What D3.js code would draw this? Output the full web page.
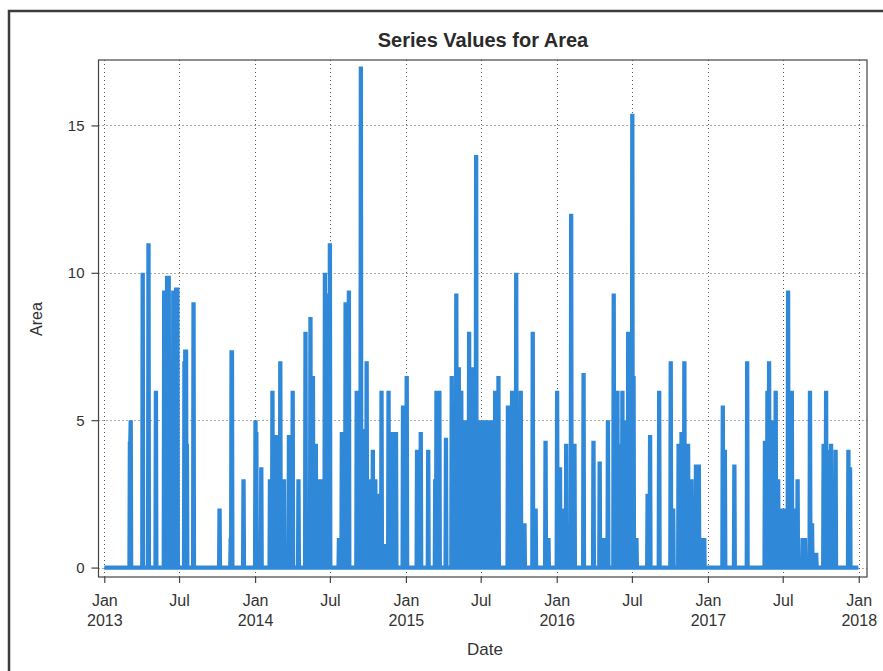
<!DOCTYPE html>
<html>
<head>
<meta charset="utf-8">
<script src="https://cdn.jsdelivr.net/npm/d3@7"></script>
<style>
  html, body { margin: 0; padding: 0; background: #ffffff; }
  svg { display: block; }
  text { font-family: "Liberation Sans", Arial, sans-serif; }
</style>
</head>
<body>
<svg id="chart" width="883" height="671"></svg>
<script>
// Daily readings of Area: only the days with a non-zero value are listed,
// every other day in the series is 0.
const spikeDates = [
  "2013-03-04","2013-03-05","2013-03-06","2013-04-04","2013-04-18","2013-05-06",
  "2013-05-26","2013-05-30","2013-06-02","2013-06-06","2013-06-10","2013-06-13",
  "2013-06-17","2013-06-21","2013-06-24","2013-06-27",
  "2013-07-14","2013-07-16","2013-07-18","2013-07-20","2013-08-05","2013-10-07",
  "2013-11-03","2013-11-05","2013-11-06","2013-12-04",
  "2014-01-02","2014-01-04","2014-01-16","2014-02-06","2014-02-09","2014-02-12",
  "2014-02-21","2014-03-03","2014-03-12","2014-03-24","2014-04-02","2014-04-16",
  "2014-05-03","2014-05-15","2014-05-21","2014-05-28","2014-06-04","2014-06-10",
  "2014-06-19","2014-06-25","2014-07-01","2014-07-23","2014-07-30","2014-08-08",
  "2014-08-16","2014-09-04","2014-09-14","2014-09-20","2014-09-28","2014-10-05",
  "2014-10-13","2014-10-19","2014-10-25","2014-11-03","2014-11-11","2014-11-20",
  "2014-11-28","2014-12-03","2014-12-08","2014-12-25",
  "2015-01-03","2015-01-28","2015-02-06","2015-02-24","2015-03-13","2015-03-16",
  "2015-03-20","2015-03-23","2015-04-08","2015-04-22","2015-05-03","2015-05-09",
  "2015-05-15","2015-05-21","2015-05-27","2015-06-03","2015-06-11","2015-06-20",
  "2015-06-25","2015-06-30","2015-07-05","2015-07-10","2015-07-15","2015-07-20",
  "2015-07-26","2015-07-31","2015-08-05","2015-08-13","2015-09-05","2015-09-15",
  "2015-09-25","2015-10-06","2015-10-15","2015-11-04","2015-11-11","2015-12-05",
  "2015-12-12",
  "2016-01-02","2016-01-09","2016-01-14","2016-01-20","2016-01-24","2016-02-05",
  "2016-02-13","2016-03-06","2016-03-30","2016-04-14","2016-04-23","2016-05-04",
  "2016-05-18","2016-05-27","2016-06-01","2016-06-08","2016-06-14","2016-06-22",
  "2016-07-02","2016-07-05","2016-07-12","2016-08-08","2016-08-14","2016-09-05",
  "2016-10-03","2016-10-09","2016-10-22","2016-10-29","2016-11-05","2016-11-14",
  "2016-11-22","2016-12-03","2016-12-10","2016-12-18","2016-12-23",
  "2017-02-06","2017-02-11","2017-03-06","2017-04-06","2017-05-19","2017-05-25",
  "2017-05-29","2017-06-05","2017-06-14","2017-06-20","2017-06-27","2017-07-04",
  "2017-07-14","2017-07-23","2017-07-29","2017-08-06","2017-08-18","2017-08-24",
  "2017-09-05","2017-09-10","2017-09-15","2017-09-20","2017-10-08","2017-10-14",
  "2017-10-20","2017-10-26","2017-11-06","2017-12-07","2017-12-11"
];
const spikeValues = [
  4.2, 4.2, 5, 10, 11, 6,
  9.4, 9.4, 9.9, 9.9, 4.3, 5.5,
  9.4, 9.4, 9.5, 9.5,
  7, 7.4, 7.4, 4.2, 9, 2,
  1, 7.3, 7.3, 3,
  5, 4.6, 3.4, 3, 3, 6,
  4.5, 7, 3, 4.5, 6, 3,
  8, 8.5, 6.5, 4.2, 3, 3,
  10, 9.3, 11, 1, 4.6, 9,
  9.4, 6, 17, 4.7, 7, 3,
  4, 3, 2.5, 6, 0.8, 6,
  4.6, 4.6, 4.6, 5.5,
  6.5, 4, 4.6, 4, 3, 6,
  6, 6, 4.4, 6.5, 9.3, 6.8,
  6, 5, 5, 8, 6.8, 14,
  4.5, 5, 5, 5, 5, 5,
  5, 3, 6, 6.5, 5.5, 6,
  10, 6, 1.5, 8, 2, 4.3,
  1,
  6, 3.4, 1.5, 2, 4.2, 12,
  4.2, 6.6, 4.3, 3.6, 1, 5,
  9.3, 6, 4.2, 6, 5, 8,
  15.4, 6.5, 1, 2.5, 4.5, 6,
  7, 2, 4.2, 4.6, 7, 4.2,
  3, 3.5, 3.5, 1, 1,
  5.5, 4, 3.5, 7, 4.3, 6,
  7, 5, 6, 3, 2, 2,
  9.4, 6, 2, 3, 1, 1,
  6, 1.5, 0.5, 0.5, 4.2, 6,
  4, 4.2, 4, 4, 3.4
];

const seriesStart = "2013-01-01";
const seriesEnd = "2018-01-01";   // exclusive

const xTickDates  = ["2013-01-01","2013-07-01","2014-01-01","2014-07-01","2015-01-01","2015-07-01",
                     "2016-01-01","2016-07-01","2017-01-01","2017-07-01","2018-01-01"];
const xTickMonths = ["Jan","Jul","Jan","Jul","Jan","Jul","Jan","Jul","Jan","Jul","Jan"];
const xTickYears  = ["2013","","2014","","2015","","2016","","2017","","2018"];
const yTicks = [0, 5, 10, 15];

const parse = d3.utcParse("%Y-%m-%d");

// build the daily series
const valueByDay = new Map(spikeDates.map((d, i) => [d, spikeValues[i]]));
const fmt = d3.utcFormat("%Y-%m-%d");
const days = d3.utcDay.range(parse(seriesStart), parse(seriesEnd));
const series = days.map(d => ({ date: d, value: valueByDay.get(fmt(d)) || 0 }));

const svg = d3.select("#chart");
const plot = { left: 98.5, right: 867, top: 60, bottom: 577 };

const x = d3.scaleUtc()
  .domain([parse("2012-12-18"), parse("2018-01-21")])
  .range([plot.left, plot.right]);
const y = d3.scaleLinear()
  .domain([-0.32, 17.22])
  .range([plot.bottom, plot.top]);

// outer border of the graph
svg.append("rect")
  .attr("x", 9).attr("y", 11)
  .attr("width", 900).attr("height", 700)
  .attr("fill", "none").attr("stroke", "#3c3c3c").attr("stroke-width", 2.5);

// title
svg.append("text")
  .attr("x", 483).attr("y", 47)
  .attr("text-anchor", "middle")
  .attr("font-size", 20).attr("font-weight", "bold")
  .attr("fill", "#2a2a2a")
  .text("Series Values for Area");

// dotted grid
const grid = svg.append("g")
  .attr("stroke", "#555").attr("stroke-width", 1)
  .attr("stroke-dasharray", "1,3").attr("fill", "none");
grid.selectAll("line.gx").data(xTickDates.map(parse)).join("line")
  .attr("class", "gx")
  .attr("x1", d => Math.round(x(d)) + 0.5).attr("x2", d => Math.round(x(d)) + 0.5)
  .attr("y1", plot.top).attr("y2", plot.bottom);
grid.selectAll("line.gy").data(yTicks).join("line")
  .attr("class", "gy")
  .attr("x1", plot.left).attr("x2", plot.right)
  .attr("y1", d => Math.round(y(d)) + 0.5).attr("y2", d => Math.round(y(d)) + 0.5);

// series line
const line = d3.line()
  .x(d => x(d.date))
  .y(d => y(d.value));
svg.append("path")
  .datum(series)
  .attr("d", line)
  .attr("fill", "none")
  .attr("stroke", "#2f89d8")
  .attr("stroke-width", 4.3);

// plot frame
svg.append("rect")
  .attr("x", plot.left).attr("y", plot.top)
  .attr("width", plot.right - plot.left).attr("height", plot.bottom - plot.top)
  .attr("fill", "none").attr("stroke", "#444").attr("stroke-width", 1.2);

// x axis
const xAxis = svg.append("g")
  .attr("transform", `translate(0,${plot.bottom})`)
  .call(d3.axisBottom(x).tickValues(xTickDates.map(parse)).tickSize(6).tickFormat(""));
xAxis.select(".domain").remove();
xAxis.selectAll(".tick line").attr("stroke", "#444").attr("stroke-width", 1.2);
xAxis.selectAll(".tick").each(function (d, i) {
  const t = d3.select(this).append("text")
    .attr("fill", "#333").attr("font-size", 16)
    .attr("text-anchor", "middle");
  t.append("tspan").attr("x", 0).attr("y", 29).text(xTickMonths[i]);
  if (xTickYears[i]) t.append("tspan").attr("x", 0).attr("y", 49).text(xTickYears[i]);
});

// y axis
const yAxis = svg.append("g")
  .attr("transform", `translate(${plot.left},0)`)
  .call(d3.axisLeft(y).tickValues(yTicks).tickSize(7).tickPadding(7));
yAxis.select(".domain").remove();
yAxis.selectAll(".tick line").attr("stroke", "#444").attr("stroke-width", 1.2);
yAxis.selectAll(".tick text")
  .attr("fill", "#333").attr("font-size", 15)
  .attr("font-family", "Liberation Sans, Arial, sans-serif");

// axis labels
svg.append("text")
  .attr("x", 485).attr("y", 655)
  .attr("text-anchor", "middle")
  .attr("font-size", 17).attr("fill", "#333")
  .text("Date");
svg.append("text")
  .attr("transform", "translate(42,319) rotate(-90)")
  .attr("text-anchor", "middle")
  .attr("font-size", 16).attr("fill", "#333")
  .text("Area");
</script>
</body>
</html>
